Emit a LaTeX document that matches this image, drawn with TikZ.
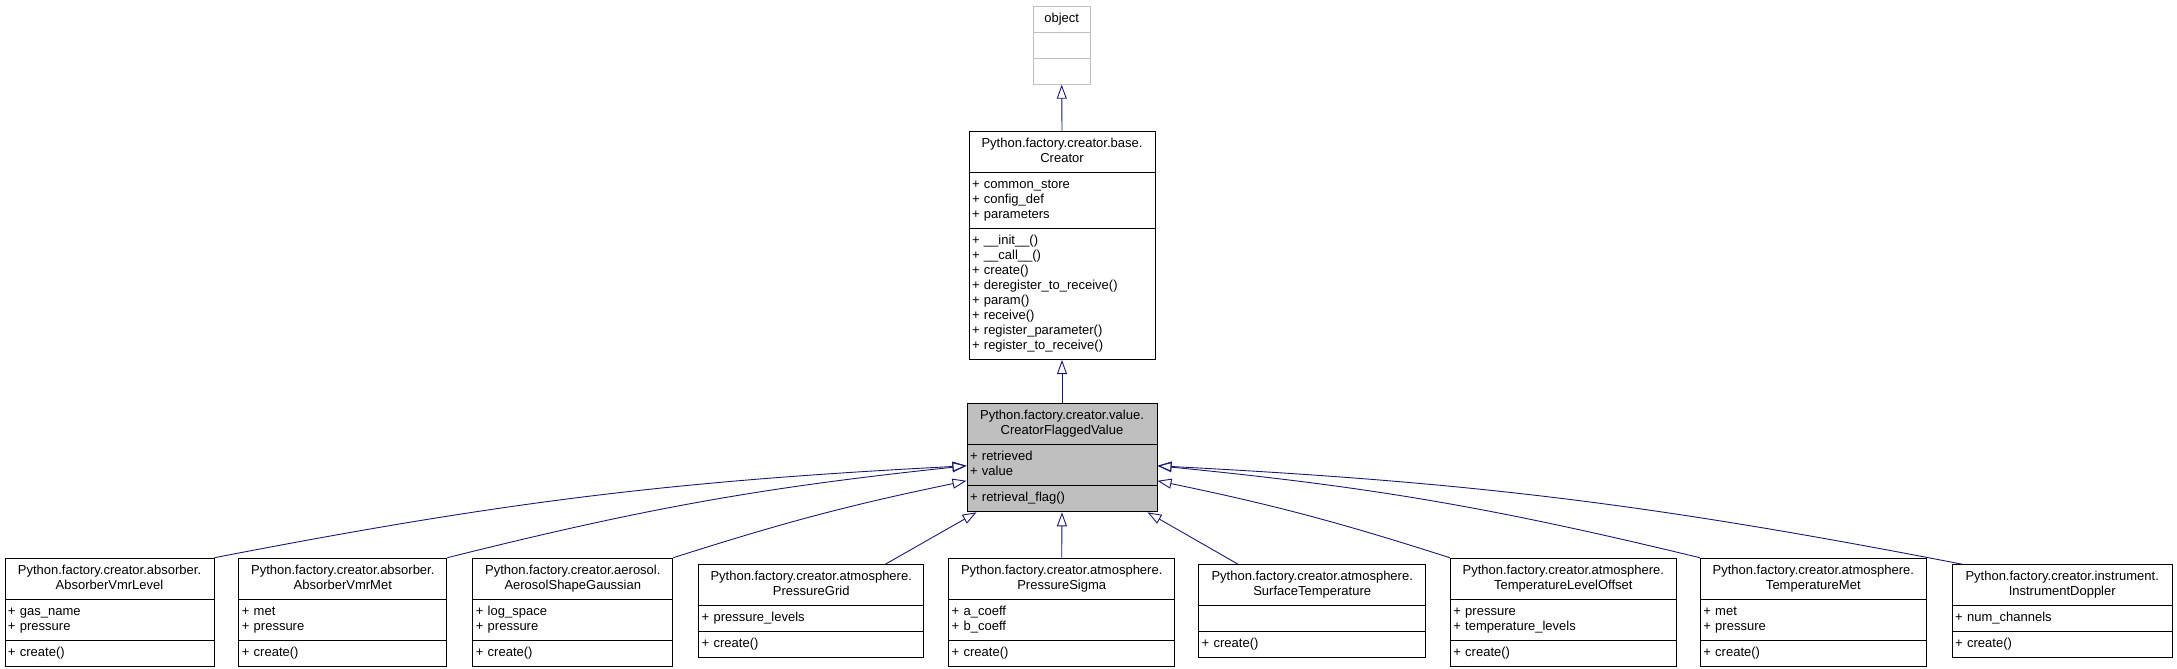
\documentclass[tikz,border=0pt]{standalone}
\usepackage{fontspec}
\setmainfont{Liberation Sans}
\usetikzlibrary{shapes.multipart, arrows.meta}

\definecolor{edgeblue}{HTML}{191970}
\definecolor{boxgrey}{HTML}{BFBFBF}

\tikzset{
	classbox/.style={rectangle split, rectangle split parts=3, draw=black, line width=1pt, fill=white,
		inner xsep=3pt, inner ysep=5pt, anchor=north, font=\fontsize{13}{15}\selectfont},
	inherit/.style={draw=edgeblue, line width=0.9pt, -{Triangle[open, length=14pt, width=10pt]}}
}

\begin{document}
\begin{tikzpicture}[x=1pt, y=-1pt]
				\useasboundingbox (0,0) rectangle (2177,669);
				% base classes
				\node (object) [classbox, draw=boxgrey, text width=51pt] at (1061.7,5.7) {%
					\centering\strut object\par%
					\nodepart{two}\strut%
					\nodepart{three}\strut%
				};
				\node (creator) [classbox, text width=180pt] at (1062,131) {%
					\centering\strut Python.factory.creator.base.\\ Creator\strut\par%
					\nodepart{two}\raggedright\strut + common\_store\\ + config\_def\\ + parameters\strut%
					\nodepart{three}\raggedright\strut + \_\_init\_\_()\\ + \_\_call\_\_()\\ + create()\\ + deregister\_to\_receive()\\ + param()\\ + receive()\\ + register\_parameter()\\ + register\_to\_receive()\strut%
				};
				\node (flagged) [classbox, fill=boxgrey, text width=184pt] at (1062,403.3) {%
					\centering\strut Python.factory.creator.value.\\ CreatorFlaggedValue\strut\par%
					\nodepart{two}\raggedright\strut + retrieved\\ + value\strut%
					\nodepart{three}\raggedright\strut + retrieval\_flag()\strut%
				};
				% derived classes
				\node (vmrlevel) [classbox, text width=203pt] at (109.5,557.7) {%
					\centering\strut Python.factory.creator.absorber.\\ AbsorberVmrLevel\strut\par%
					\nodepart{two}\raggedright\strut + gas\_name\\ + pressure\strut%
					\nodepart{three}\raggedright\strut + create()\strut%
				};
				\node (vmrmet) [classbox, text width=202pt] at (342.8,557.7) {%
					\centering\strut Python.factory.creator.absorber.\\ AbsorberVmrMet\strut\par%
					\nodepart{two}\raggedright\strut + met\\ + pressure\strut%
					\nodepart{three}\raggedright\strut + create()\strut%
				};
				\node (aerosol) [classbox, text width=194pt] at (572.8,557.7) {%
					\centering\strut Python.factory.creator.aerosol.\\ AerosolShapeGaussian\strut\par%
					\nodepart{two}\raggedright\strut + log\_space\\ + pressure\strut%
					\nodepart{three}\raggedright\strut + create()\strut%
				};
				\node (pgrid) [classbox, text width=219pt] at (811.2,564.3) {%
					\centering\strut Python.factory.creator.atmosphere.\\ PressureGrid\strut\par%
					\nodepart{two}\raggedright\strut + pressure\_levels\strut%
					\nodepart{three}\raggedright\strut + create()\strut%
				};
				\node (psigma) [classbox, text width=220pt] at (1061.7,557.7) {%
					\centering\strut Python.factory.creator.atmosphere.\\ PressureSigma\strut\par%
					\nodepart{two}\raggedright\strut + a\_coeff\\ + b\_coeff\strut%
					\nodepart{three}\raggedright\strut + create()\strut%
				};
				\node (surftemp) [classbox, text width=221pt] at (1312.2,564.3) {%
					\centering\strut Python.factory.creator.atmosphere.\\ SurfaceTemperature\strut\par%
					\nodepart{two}\strut%
					\nodepart{three}\raggedright\strut + create()\strut%
				};
				\node (tlevel) [classbox, text width=220pt] at (1563.3,557.7) {%
					\centering\strut Python.factory.creator.atmosphere.\\ TemperatureLevelOffset\strut\par%
					\nodepart{two}\raggedright\strut + pressure\\ + temperature\_levels\strut%
					\nodepart{three}\raggedright\strut + create()\strut%
				};
				\node (tmet) [classbox, text width=220pt] at (1813.3,557.7) {%
					\centering\strut Python.factory.creator.atmosphere.\\ TemperatureMet\strut\par%
					\nodepart{two}\raggedright\strut + met\\ + pressure\strut%
					\nodepart{three}\raggedright\strut + create()\strut%
				};
				\node (doppler) [classbox, text width=214pt] at (2062.2,564.3) {%
					\centering\strut Python.factory.creator.instrument.\\ InstrumentDoppler\strut\par%
					\nodepart{two}\raggedright\strut + num\_channels\strut%
					\nodepart{three}\raggedright\strut + create()\strut%
				};
				% inheritance
				\draw [inherit] (creator.north) -- (object.south);
				\draw [inherit] (flagged.north) -- (creator.south);
				\draw [inherit] (vmrlevel.north east) to[bend left=4] ([yshift=-21pt]flagged.text split west);
				\draw [inherit] (vmrmet.north east) to[bend left=4] ([yshift=-21pt]flagged.text split west);
				\draw [inherit] (aerosol.north east) to[bend left=3] ([yshift=5pt]flagged.two split west);
				\draw [inherit] ([xshift=-39pt]pgrid.north east) -- ([xshift=10pt]flagged.south west);
				\draw [inherit] (psigma.north) -- (flagged.south);
				\draw [inherit] ([xshift=40pt]surftemp.north west) -- ([xshift=-10pt]flagged.south east);
				\draw [inherit] (tlevel.north west) to[bend right=3] ([yshift=5pt]flagged.two split east);
				\draw [inherit] (tmet.north west) to[bend right=4] ([yshift=-21pt]flagged.text split east);
				\draw [inherit] ([xshift=11pt]doppler.north west) to[bend right=4] ([yshift=-21pt]flagged.text split east);
			\end{tikzpicture}
\end{document}
